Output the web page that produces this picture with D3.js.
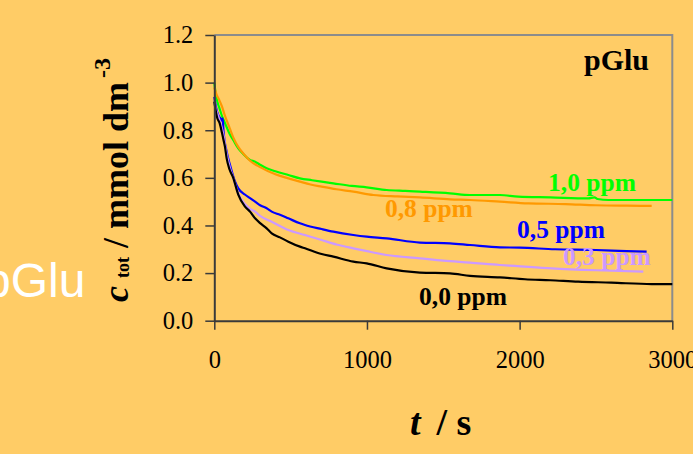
<!DOCTYPE html>
<html>
<head>
<meta charset="utf-8">
<script src="https://cdn.jsdelivr.net/npm/d3@7"></script>
<style>
  html, body { margin: 0; padding: 0; background: #ffcc66; }
  svg { display: block; }
</style>
</head>
<body>
<svg id="chart" width="693" height="454"></svg>
<script>
// Total concentration vs. time, [t in s, c in mmol dm^-3], one list per pGlu dose
const ppm10 = [[0,1.0],[10,0.95],[20,0.92],[35,0.89],[50,0.86],[70,0.83],[100,0.785],[124,0.759],[157,0.724],[190,0.70],[234,0.675],[267,0.668],[300,0.655],[343,0.640],[400,0.628],[485,0.612],[561,0.598],[640,0.590],[703,0.584],[780,0.577],[900,0.566],[998,0.560],[1129,0.549],[1250,0.545],[1347,0.542],[1544,0.535],[1675,0.528],[1871,0.528],[1991,0.521],[2200,0.518],[2450,0.514],[2490,0.518],[2510,0.511],[2581,0.507],[3000,0.507]];
const ppm08 = [[0,0.98],[15,0.95],[30,0.93],[50,0.90],[70,0.86],[100,0.81],[124,0.77],[157,0.73],[200,0.695],[234,0.672],[300,0.645],[400,0.615],[485,0.598],[561,0.584],[630,0.572],[703,0.563],[800,0.552],[911,0.542],[1042,0.528],[1200,0.522],[1347,0.518],[1544,0.510],[1675,0.507],[1871,0.500],[2057,0.493],[2300,0.490],[2500,0.485],[2700,0.483],[2865,0.482]];
const ppm05 = [[0,0.94],[10,0.90],[26,0.864],[40,0.85],[50,0.84],[55,0.85],[60,0.80],[81,0.71],[103,0.654],[136,0.584],[157,0.556],[200,0.53],[234,0.515],[267,0.50],[300,0.485],[343,0.472],[376,0.458],[430,0.445],[485,0.430],[561,0.409],[594,0.402],[703,0.385],[780,0.374],[911,0.360],[998,0.353],[1129,0.346],[1347,0.328],[1544,0.325],[1675,0.318],[1871,0.308],[2000,0.307],[2232,0.300],[2500,0.297],[2700,0.292],[2832,0.290]];
const ppm03 = [[0,0.92],[10,0.89],[25,0.86],[40,0.83],[60,0.78],[81,0.70],[103,0.64],[124,0.60],[157,0.535],[200,0.49],[234,0.47],[267,0.458],[300,0.44],[376,0.416],[485,0.381],[594,0.360],[703,0.339],[800,0.320],[911,0.304],[1000,0.292],[1129,0.276],[1347,0.262],[1500,0.252],[1675,0.244],[1871,0.234],[1970,0.230],[2210,0.220],[2500,0.212],[2810,0.206]];
const ppm00 = [[0,0.92],[10,0.88],[20,0.85],[35,0.83],[50,0.79],[60,0.76],[70,0.73],[81,0.682],[100,0.635],[124,0.60],[157,0.53],[200,0.48],[234,0.458],[267,0.430],[300,0.41],[343,0.388],[376,0.367],[430,0.35],[485,0.332],[561,0.311],[594,0.304],[703,0.280],[780,0.269],[911,0.248],[998,0.241],[1129,0.220],[1347,0.202],[1544,0.199],[1675,0.188],[1871,0.182],[2035,0.174],[2200,0.170],[2384,0.164],[2600,0.160],[2865,0.154],[3000,0.154]];

const seriesNames = ["1,0 ppm", "0,8 ppm", "0,5 ppm", "0,3 ppm", "0,0 ppm"];
const seriesData = [ppm10, ppm08, ppm05, ppm03, ppm00];
const xTicks = [0, 1000, 2000, 3000];
const yTicks = [0.0, 0.2, 0.4, 0.6, 0.8, 1.0, 1.2];

// Drawing styles and where each curve's label sits (data coordinates)
const seriesColors = ["#00ff00", "#ff9900", "#0000ff", "#cc99ff", "#000000"];
const labelAnchors = [[2186, 0.546], [1118, 0.437], [1983, 0.346], [2284, 0.236], [1341, 0.066]];

const serif = "'Liberation Serif', 'Times New Roman', serif";
const svg = d3.select("#chart");

const plot = { left: 214.3, right: 672.3, top: 35, bottom: 320.7 };
const x = d3.scaleLinear().domain([0, 3000]).range([plot.left, plot.right]);
const y = d3.scaleLinear().domain([0, 1.2]).range([plot.bottom, plot.top]);

// Slide-side caption, partly off the left edge
svg.append("text")
  .attr("x", -16).attr("y", 297)
  .attr("font-family", "'Liberation Sans', Arial, sans-serif")
  .attr("font-size", 48)
  .attr("fill", "#ffffff")
  .text("pGlu");

// Grey frame on top and right
svg.append("path")
  .attr("d", `M${plot.left},${plot.top}H${plot.right}V${plot.bottom}`)
  .attr("fill", "none")
  .attr("stroke", "#8c8c8c")
  .attr("stroke-width", 2);

// Curves
const line = d3.line().x(d => x(d[0])).y(d => y(d[1])).curve(d3.curveMonotoneX);
const curves = svg.append("g");
seriesData.forEach((data, i) => {
  curves.append("path")
    .datum(data)
    .attr("d", line)
    .attr("fill", "none")
    .attr("stroke", seriesColors[i])
    .attr("stroke-width", 2.2);
});

// Curve labels
seriesNames.forEach((name, i) => {
  svg.append("text")
    .attr("x", x(labelAnchors[i][0]))
    .attr("y", y(labelAnchors[i][1]))
    .attr("font-family", serif)
    .attr("font-weight", "bold")
    .attr("font-size", 25.5)
    .attr("fill", seriesColors[i])
    .text(name);
});

// Panel tag
svg.append("text")
  .attr("x", 649).attr("y", 70)
  .attr("text-anchor", "end")
  .attr("font-family", serif)
  .attr("font-weight", "bold")
  .attr("font-size", 30)
  .attr("fill", "#000")
  .text("pGlu");

// Axes
const xAxis = d3.axisBottom(x).tickValues(xTicks).tickFormat(d3.format("d"))
  .tickSizeInner(9).tickSizeOuter(0).tickPadding(21);
const yAxis = d3.axisLeft(y).tickValues(yTicks).tickFormat(d3.format(".1f"))
  .tickSizeInner(9).tickSizeOuter(0).tickPadding(12);

function styleAxis(g) {
  g.select(".domain").attr("stroke", "#3a3a3a").attr("stroke-width", 2);
  g.selectAll(".tick line").attr("stroke", "#3a3a3a").attr("stroke-width", 1.5);
  g.selectAll(".tick text")
    .attr("font-family", serif)
    .attr("font-size", 24.5)
    .attr("fill", "#000");
}

svg.append("g")
  .attr("transform", `translate(0,${plot.bottom})`)
  .call(xAxis)
  .call(styleAxis);

svg.append("g")
  .attr("transform", `translate(${plot.left},0)`)
  .call(yAxis)
  .call(styleAxis);

// Y axis title: c_tot / mmol dm^-3
const yTitle = svg.append("text")
  .attr("transform", "translate(128,180) rotate(-90)")
  .attr("text-anchor", "middle")
  .attr("font-family", serif)
  .attr("font-weight", "bold")
  .attr("font-size", 36)
  .attr("fill", "#000");
yTitle.append("tspan").attr("font-style", "italic").text("c");
yTitle.append("tspan").attr("font-size", 18).attr("dx", 8).attr("dy", 1).text("tot");
yTitle.append("tspan").attr("dy", -1).text(" / mmol dm");
yTitle.append("tspan").attr("font-size", 24).attr("dx", 4).attr("dy", -18).text("-3");

// X axis title: t / s
const xTitle = svg.append("text")
  .attr("x", 410).attr("y", 435)
  .attr("font-family", serif)
  .attr("font-weight", "bold")
  .attr("font-size", 38)
  .attr("fill", "#000");
xTitle.append("tspan").attr("font-style", "italic").text("t");
xTitle.append("tspan").attr("dx", 16).text("/ s");
</script>
</body>
</html>
